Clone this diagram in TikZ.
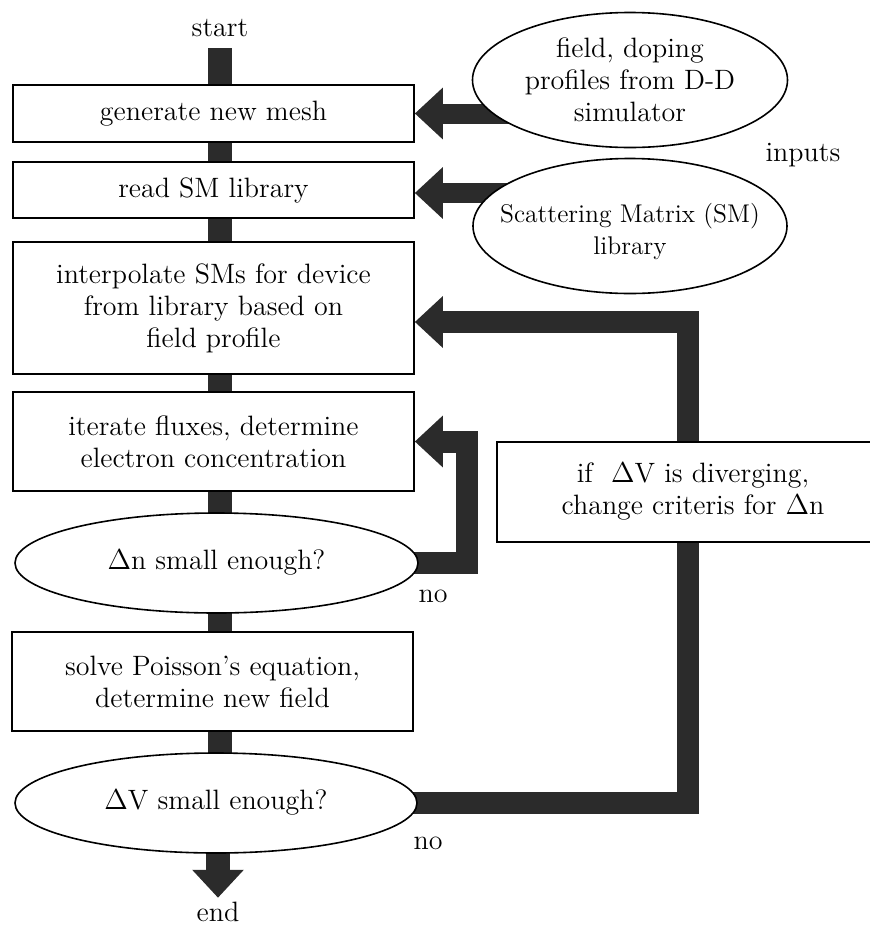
\documentclass[tikz,border=0pt]{standalone}
\usetikzlibrary{shapes.geometric,arrows.meta,calc}
\pgfdeclarelayer{bg}
\pgfsetlayers{bg,main}
\definecolor{ink}{gray}{0.17}
\newcommand\myfont{\fontsize{14}{16}\selectfont}
\newcommand\myfontsm{\fontsize{12.8}{16}\selectfont}
\tikzset{
  box/.style={draw, line width=0.8pt, fill=white, rectangle, minimum width=200.5pt, inner sep=0pt, align=center, font=\myfont},
  oval/.style={draw, line width=0.8pt, fill=white, ellipse, inner sep=0pt, align=center, font=\myfont},
  lbl/.style={inner sep=1pt, font=\myfont},
  shaft/.style={draw=ink, line width=12pt},
  flow/.style={draw=ink, line width=11pt, -{Triangle[width=25pt,length=14pt]}},
}
\begin{document}
\begin{tikzpicture}[x=0.5pt,y=-0.5pt]
\useasboundingbox (0,0) rectangle (869,927);
\node[lbl] (start) at (220,28) {start};
\node[box, minimum height=28.5pt] (b1) at (213.5,113.5) {generate new mesh};
\node[box, minimum height=28pt] (b2) at (213.5,190) {read SM library};
\node[box, minimum height=66pt] (b3) at (213.5,308) {interpolate SMs for device\\from library based on\\field profile};
\node[box, minimum height=49.5pt] (b4) at (213.5,441.5) {iterate fluxes, determine\\electron concentration};
\node[oval, minimum width=201.5pt, minimum height=50pt] (dn) at (216.5,563) {$\Delta$n small enough?};
\node[box, minimum height=49.5pt] (b5) at (212.5,681.5) {solve Poisson's equation,\\determine new field};
\node[oval, minimum width=201pt, minimum height=50pt] (dv) at (216,803) {$\Delta$V small enough?};
\node[lbl] (end) at (218,912) {end};
\node[oval, minimum width=157.5pt, minimum height=67.5pt,
      label={[align=center,font=\myfont,inner sep=0pt]center:field, doping\\profiles from D-D\\simulator}] (fd) at (630,80) {};
\node[oval, minimum width=157pt, minimum height=67.5pt,
      label={[align=center,font=\myfontsm,inner sep=0pt,yshift=-3pt]center:Scattering Matrix (SM)\\library}] (sm) at (630,226) {};
\node[box, minimum width=196pt, minimum height=50pt] (cv) at (693,492) {if~~$\Delta$V is diverging,\\change criteris for $\Delta$n};
\node[lbl] (inp) at (803,155) {inputs};
\node[lbl] (no1) at (433,596) {no};
\node[lbl] (no2) at (428,843) {no};
\coordinate (t2) at ($(b2.east)+(0,3)$);
\coordinate (t3) at ($(b3.east)+(0,14)$);
\coordinate (bigx) at (688,0);
\coordinate (smallx) at (467,0);
\begin{pgfonlayer}{bg}
\draw[shaft] ([yshift=-4.5pt]start.south) -- (b1.north -| start);
\draw[shaft] (b1.south -| start) -- (b2.north -| start);
\draw[shaft] (b2.south -| start) -- (b3.north -| start);
\draw[shaft] (b3.south -| start) -- (b4.north -| start);
\draw[shaft] (b4.south -| start) -- ([yshift=-3pt]dn.north -| start);
\draw[shaft] ([yshift=3pt]dn.south -| start) -- (b5.north -| start);
\draw[shaft] (b5.south -| start) -- ([yshift=-3pt]dv.north -| start);
\draw[flow, line width=12pt] ([yshift=3pt]dv.south -| end) -- ([yshift=1pt]end.north);
\draw[flow, line width=10pt] (b1.east -| fd.center) -- (b1.east);
\draw[flow, line width=10pt] (t2 -| sm.center) -- (t2);
\draw[flow] ([xshift=-5pt]dv.east) -- (dv.east -| bigx) -- (t3 -| bigx) -- (t3);
\draw[flow] ([xshift=-5pt]dn.east) -- (dn.east -| smallx) -- (b4.east -| smallx) -- (b4.east);
\end{pgfonlayer}
\end{tikzpicture}
\end{document}
